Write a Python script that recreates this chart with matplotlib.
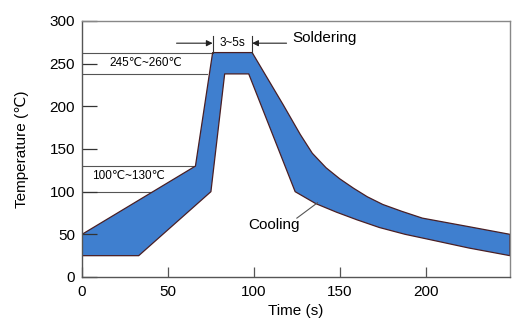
import matplotlib
matplotlib.use("Agg")
import matplotlib.pyplot as plt
import numpy as np

# Upper (outer) boundary of the reflow window
upper_t = [0, 66, 76, 99, 117, 127, 134, 142, 150, 158, 166, 175, 186, 198, 225, 249]
upper_T = [50, 130, 263, 263, 202, 167, 145, 128, 115, 104, 94, 85, 77, 69, 59, 50]
# Lower (inner) boundary
lower_t = [0, 33, 75, 83, 97, 124, 136, 148, 160, 173, 188, 202, 225, 249]
lower_T = [25, 25, 100, 238, 238, 100, 86, 76, 67, 58, 50, 44, 34, 25]

x_ticks = [0, 50, 100, 150, 200]
y_ticks = [0, 50, 100, 150, 200, 250, 300]

# guide lines: (temperature, end time)
guides_T = [263, 238, 130, 100]
guides_end = [76, 73, 66, 41]

FAM = ['Liberation Sans', 'DejaVu Sans']
plt.rcParams['font.family'] = FAM

fig = plt.figure(figsize=(5.25, 3.31), dpi=100)
ax = fig.add_axes([82/525, 54/331, 428/525, 256/331])

poly_t = np.concatenate([upper_t, lower_t[::-1]])
poly_T = np.concatenate([upper_T, lower_T[::-1]])
ax.fill(poly_t, poly_T, facecolor='#3f7fcf', edgecolor='#4a1f24', linewidth=0.9,
        joinstyle='round', zorder=1)

for T, e in zip(guides_T, guides_end):
    ax.plot([0, e], [T, T], color='#555555', linewidth=0.8, zorder=0.5)

ax.set_xlim(0, 249)
ax.set_ylim(0, 300)
ax.set_xticks(x_ticks)
ax.set_yticks(y_ticks)
ax.tick_params(axis='y', direction='in', length=11, width=0.9, color='#333333', labelsize=11, pad=5)
ax.tick_params(axis='x', direction='in', length=7, width=0.9, color='#555555', labelsize=11, pad=6)
for s in ['left', 'bottom']:
    ax.spines[s].set_color('#555555')
    ax.spines[s].set_linewidth(1.0)
for s in ['top', 'right']:
    ax.spines[s].set_color('#888888')
    ax.spines[s].set_linewidth(1.0)

ax.set_xlabel('Time (s)', fontsize=11, labelpad=3)
ax.set_ylabel('Temperature (℃)', fontsize=11, family=FAM, labelpad=15)

# soldering window markers
ax.plot([76, 76], [263, 283], color='#333333', linewidth=0.8, zorder=3)
ax.plot([99, 99], [263, 283], color='#333333', linewidth=0.8, zorder=3)
ax.annotate('', xy=(76, 274), xytext=(55, 274),
            arrowprops=dict(arrowstyle='-|>', color='#222222', lw=0.8, mutation_scale=9,
                            shrinkA=0, shrinkB=0))
ax.annotate('', xy=(99, 274), xytext=(119, 274),
            arrowprops=dict(arrowstyle='-|>', color='#222222', lw=0.8, mutation_scale=9,
                            shrinkA=0, shrinkB=0))
ax.text(87.5, 274, '3~5s', fontsize=8.5, ha='center', va='center')
ax.text(122.5, 280, 'Soldering', fontsize=11, ha='left', va='center')

ax.text(16, 251, '245℃~260℃', fontsize=8.5, ha='left', va='center', family=FAM)
ax.text(6, 118, '100℃~130℃', fontsize=8.5, ha='left', va='center', family=FAM)

ax.text(96.5, 61, 'Cooling', fontsize=11, ha='left', va='center')
ax.plot([125, 137], [69, 87], color='#555555', linewidth=0.8, zorder=3)

fig.savefig('out.png', dpi=100)
